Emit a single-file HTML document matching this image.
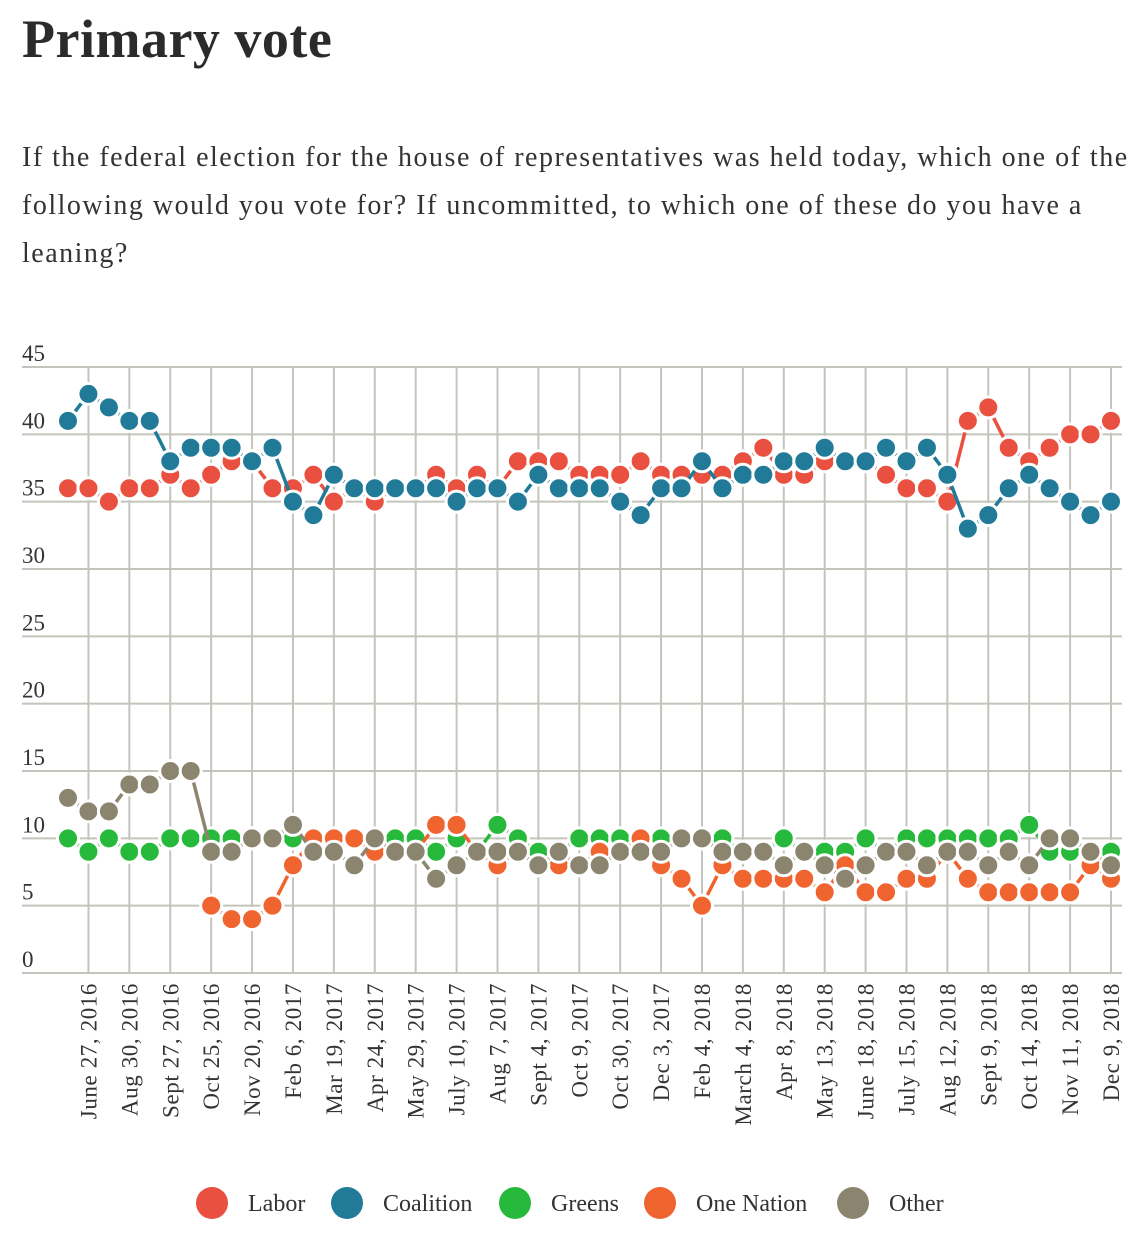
<!DOCTYPE html>
<html><head><meta charset="utf-8"><style>
body{margin:0;background:#fff;width:1141px;height:1236px;overflow:hidden;font-family:"Liberation Serif",serif;color:#333}
h1{position:absolute;left:22px;top:8px;margin:0;font-size:54px;font-weight:bold;color:#2b2b2b;letter-spacing:0.5px}
p{position:absolute;left:22px;top:134px;margin:0;font-size:28px;line-height:48px;color:#333;letter-spacing:1.5px;white-space:nowrap}
svg{position:absolute;left:0;top:0}
</style></head><body>
<h1>Primary vote</h1>
<p>If the federal election for the house of representatives was held today, which one of the<br>following would you vote for? If uncommitted, to which one of these do you have a<br>leaning?</p>
<svg id="chart" width="1141" height="1236"></svg>
<script>
const labels=["June 27, 2016","Aug 30, 2016","Sept 27, 2016","Oct 25, 2016","Nov 20, 2016","Feb 6, 2017","Mar 19, 2017","Apr 24, 2017","May 29, 2017","July 10, 2017","Aug 7, 2017","Sept 4, 2017","Oct 9, 2017","Oct 30, 2017","Dec 3, 2017","Feb 4, 2018","March 4, 2018","Apr 8, 2018","May 13, 2018","June 18, 2018","July 15, 2018","Aug 12, 2018","Sept 9, 2018","Oct 14, 2018","Nov 11, 2018","Dec 9, 2018"];
const yTicks=[0,5,10,15,20,25,30,35,40,45];
const labor=[36,36,35,36,36,37,36,37,38,38,36,36,37,35,36,35,36,36,37,36,37,36,38,38,38,37,37,37,38,37,37,37,37,38,39,37,37,38,38,38,37,36,36,35,41,42,39,38,39,40,40,41];
const coalition=[41,43,42,41,41,38,39,39,39,38,39,35,34,37,36,36,36,36,36,35,36,36,35,37,36,36,36,35,34,36,36,38,36,37,37,38,38,39,38,38,39,38,39,37,33,34,36,37,36,35,34,35];
const greens=[10,9,10,9,9,10,10,10,10,10,10,10,10,10,10,9,10,10,9,10,9,11,10,9,9,10,10,10,10,10,10,10,10,9,9,10,9,9,9,10,9,10,10,10,10,10,10,11,9,9,9,9];
const oneNation=[null,null,null,null,null,null,null,5,4,4,5,8,10,10,10,9,9,9,11,11,9,8,9,8,8,8,9,9,10,8,7,5,8,7,7,7,7,6,8,6,6,7,7,9,7,6,6,6,6,6,8,7];
const other=[13,12,12,14,14,15,15,9,9,10,10,11,9,9,8,10,9,9,7,8,9,9,9,8,9,8,8,9,9,9,10,10,9,9,9,8,9,8,7,8,9,9,8,9,9,8,9,8,10,10,9,8];
const seriesNames=["Labor","Coalition","Greens","One Nation","Other"];
const seriesColors=["#e9503f","#217b98","#27b93c","#f06430","#8b8570"];
const N=labor.length;
const X0=68,X1=1111,Y0=973,Y45=367;
const x=i=>X0+i*(X1-X0)/(N-1);
const y=v=>Y0+(Y45-Y0)*v/45;
const ns="http://www.w3.org/2000/svg";
const svg=document.getElementById('chart');
function mk(t,a,p){const e=document.createElementNS(ns,t);for(const k in a)e.setAttribute(k,a[k]);(p||svg).appendChild(e);return e;}
yTicks.forEach(t=>{
  const l=mk('line',{x1:22,x2:1122,y1:y(t),y2:y(t),stroke:'#c4c4bc','stroke-width':2});
  
  
  const tx=mk('text',{x:22,y:y(t)-6,'font-size':23,fill:'#333','font-family':'Liberation Serif, serif'});
  tx.textContent=t;
  
  
});
labels.forEach((lb,k)=>{
  const i=2*k+1,xx=x(i);
  const l=mk('line',{x1:xx,x2:xx,y1:367,y2:Y0,stroke:'#c4c4bc','stroke-width':2});
  
  
  const tx=mk('text',{x:0,y:0,'font-size':23,fill:'#333','text-anchor':'end','font-family':'Liberation Serif, serif','letter-spacing':'0.6',transform:`translate(${xx+8},983) rotate(-90)`});
  tx.textContent=lb;
  
  
});
const data=[labor,coalition,greens,oneNation,other];
data.forEach((s,si)=>{
  const g=mk('g',{});
  
  
  for(let i=1;i<N;i++){
    if(s[i]==null||s[i-1]==null)continue;
    const seg=mk('line',{x1:x(i-1),y1:y(s[i-1]),x2:x(i),y2:y(s[i]),stroke:seriesColors[si],'stroke-width':3.5},g);
    
    
  }
  s.forEach((v,i)=>{
    if(v==null)return;
    const c=mk('circle',{cx:x(i),cy:y(v),r:10.5,fill:seriesColors[si],stroke:'#fff','stroke-width':3},g);
    
    
  });
});
const legX=[212,347,515,660,853];
seriesNames.forEach((n,i)=>{
  const g=mk('g',{});
  
  
  mk('circle',{cx:legX[i],cy:1203,r:16,fill:seriesColors[i]},g);
  const t=mk('text',{x:legX[i]+36,y:1211,'font-size':24,fill:'#333','font-family':'Liberation Serif, serif'},g);
  t.textContent=n;
});
</script>
</body></html>
